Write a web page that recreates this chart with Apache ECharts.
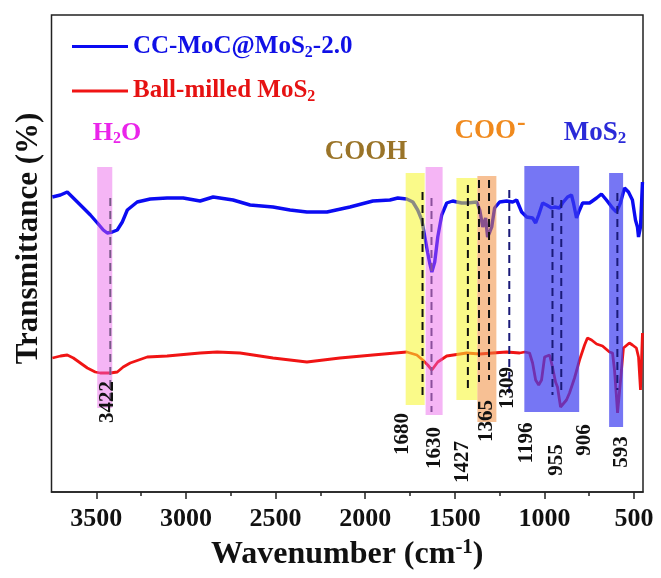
<!DOCTYPE html>
<html>
<head>
<meta charset="utf-8">
<script src="https://cdn.jsdelivr.net/npm/echarts@6/dist/echarts.min.js"></script>
<style>
  html, body { margin: 0; padding: 0; background: #fff; }
  #chart { width: 661px; height: 578px; }
</style>
</head>
<body>
<div id="chart"></div>
<script>
// FTIR spectra: [wavenumber (cm-1), transmittance (offset, arb. units)]
const ccMocSpectrum = [
  [3745,60.6],[3700,61.0],[3662,61.6],[3617,60.0],[3572,58.4],[3533,57.0],[3494,55.4],
  [3461,54.0],[3439,53.4],[3411,53.6],[3383,54.0],[3355,55.6],[3327,58.0],[3272,59.6],
  [3199,60.2],[3105,60.4],[3015,60.4],[2921,59.8],[2848,60.6],[2737,60.0],[2642,59.0],
  [2514,58.6],[2419,58.0],[2325,57.6],[2213,57.6],[2085,58.6],[1957,59.8],[1862,60.0],
  [1818,60.4],[1768,60.2],[1734,59.6],[1707,58.0],[1684,56.0],[1667,52.6],[1651,49.4],
  [1640,47.4],[1628,45.6],[1612,47.6],[1595,52.6],[1573,57.0],[1545,59.4],[1512,59.8],
  [1462,59.4],[1428,59.4],[1378,59.6],[1361,58.0],[1344,54.6],[1328,56.4],[1317,52.6],
  [1305,53.6],[1294,54.6],[1278,58.4],[1250,59.6],[1211,59.8],[1177,59.6],[1155,60.0],
  [1127,57.6],[1099,56.6],[1066,56.4],[1049,55.4],[1032,57.0],[1010,59.4],[988,59.0],
  [960,58.4],[943,58.6],[916,58.4],[899,59.4],[871,60.6],[849,61.0],[838,59.4],
  [821,56.4],[804,58.0],[787,59.4],[748,59.4],[709,60.4],[682,61.2],[654,60.0],
  [620,58.4],[598,57.6],[576,59.4],[553,62.4],[531,61.6],[509,60.0],[492,56.0],
  [481,54.6],[475,52.6],[464,54.6],[453,63.6]
];

const ballMilledSpectrum = [
  [3745,28.4],[3700,28.8],[3662,29.0],[3628,28.4],[3589,27.4],[3550,26.4],[3506,25.6],
  [3478,25.4],[3422,25.4],[3383,25.6],[3350,26.6],[3311,27.4],[3216,28.6],[3105,28.8],
  [2921,29.4],[2826,29.6],[2698,29.4],[2514,28.4],[2325,27.6],[2141,28.4],[1957,29.0],
  [1768,29.6],[1712,29.0],[1679,28.0],[1651,27.0],[1628,26.0],[1595,27.6],[1545,28.8],
  [1434,29.4],[1361,29.2],[1289,29.4],[1211,29.6],[1138,29.4],[1110,29.6],[1083,29.4],
  [1066,27.4],[1049,24.0],[1032,23.0],[1016,24.0],[999,28.6],[971,29.0],[955,26.6],
  [938,23.6],[927,22.6],[910,18.6],[899,18.6],[877,20.0],[860,21.4],[832,24.4],
  [804,28.0],[776,31.0],[760,32.4],[737,32.0],[709,31.2],[676,30.8],[637,29.6],
  [620,29.4],[609,26.0],[598,20.6],[592,17.4],[587,19.4],[570,26.0],[559,30.4],
  [526,31.4],[509,31.0],[487,30.4],[475,28.6],[464,22.0],[453,33.4]
];

const seriesNames = ['CC-MoC@MoS2-2.0', 'Ball-milled MoS2'];

// assigned peak positions (cm-1)
const peakWavenumbers = [3422, 1680, 1630, 1427, 1365, 1309, 1196, 955, 906, 593];

// assignment bands: [high, low] wavenumber
const bandRanges = [[3495,3411],[1774,1668],[1663,1568],[1491,1374],[1374,1268],[1112,806],[639,561]];

const xTickValues = [3500, 3000, 2500, 2000, 1500, 1000, 500];
const xMinorTickValues = [3250, 2750, 2250, 1750, 1250, 750];

// ---- layout / styling ----
const FONT = "'Liberation Serif', 'Times New Roman', 'DejaVu Serif', serif";
const bandSpans = [[66.6,18.4],[65.4,19.0],[66.6,17.0],[64.4,20.0],[64.8,15.6],[66.8,17.6],[65.4,14.6]];
const bandColors = [
  'rgba(232,90,232,0.45)', 'rgba(245,245,40,0.55)', 'rgba(232,90,232,0.45)',
  'rgba(245,245,40,0.55)', 'rgba(240,140,60,0.55)', 'rgba(60,60,240,0.7)', 'rgba(60,60,240,0.7)'
];
const peakLineSpans = [[60.4,19.4],[61.6,20.6],[60.4,17.6],[63,22],[64,23.6],[64,24],[62,21],[60.6,21],[60,21],[61.4,22]];
const peakDashColors = ['#7a5a88','#111','#8a4f9c','#111','#111','#111','#1a1a78','#1a1a78','#1a1a78','#1a1a78'];
const peakLabelY = [19.6, 13.2, 10.4, 7.6, 15.8, 22.4, 11.4, 8.0, 12.0, 9.6];
const peakLabelDx = [-3, -20, 3, -5, 8, 19, 17, 4, 23, 4];

const chart = echarts.init(document.getElementById('chart'), null, { renderer: 'canvas' });

function groupLabel(x, y, text, color, size) {
  const sub = Math.round(size * 0.62);
  return {
    type: 'text', x: x, y: y, silent: true, z: 10,
    style: {
      text: text, fill: color, font: 'bold ' + size + 'px ' + FONT,
      rich: {
        b: { fontSize: size, fontWeight: 'bold', fontFamily: FONT, fill: color },
        s: { fontSize: sub, fontWeight: 'bold', fontFamily: FONT, fill: color, padding: [Math.round(size * 0.45), 0, 0, 0] },
        p: { fontSize: Math.round(size * 0.95), fontWeight: 'bold', fontFamily: FONT, fill: color, padding: [0, 0, Math.round(size * 0.55), 1] }
      },
      align: 'center', verticalAlign: 'middle'
    }
  };
}

const option = {
  animation: false,
  backgroundColor: '#fff',
  grid: {
    left: 51.5, right: 18, top: 15, bottom: 86,
    show: true, borderColor: '#222', borderWidth: 1.5, backgroundColor: 'transparent'
  },
  legend: {
    orient: 'vertical', left: 72, top: 34, itemGap: 18, padding: 0,
    itemWidth: 56, itemHeight: 3,
    icon: 'rect',
    data: [
      { name: seriesNames[0], textStyle: { color: '#1010e6' } },
      { name: seriesNames[1], textStyle: { color: '#e61212' } }
    ],
    formatter: (name) => '{b|' + name.replace('MoS2', 'MoS}{s|2}{b|') + '}',
    textStyle: {
      fontFamily: FONT, fontWeight: 'bold', fontSize: 25,
      rich: {
        b: { fontFamily: FONT, fontWeight: 'bold', fontSize: 25 },
        s: { fontFamily: FONT, fontWeight: 'bold', fontSize: 16, padding: [12, 0, 0, 0] }
      }
    }
  },
  xAxis: [
    {
      type: 'value', min: 450, max: 3750, inverse: true, position: 'bottom',
      splitLine: { show: false },
      axisLine: { show: true, onZero: false, lineStyle: { color: '#222', width: 1.5 } },
      axisTick: { show: true, inside: false, length: 7, customValues: xTickValues, lineStyle: { color: '#222', width: 1.5 } },
      axisLabel: {
        customValues: xTickValues, margin: 14,
        formatter: (v) => String(v),
        fontFamily: FONT, fontWeight: 'bold', fontSize: 26, color: '#111'
      },
      name: '{b|Wavenumber (cm}{p|-1}{b|)}',
      nameLocation: 'middle', nameGap: 44,
      nameTextStyle: {
        color: '#111',
        rich: {
          b: { fontFamily: FONT, fontWeight: 'bold', fontSize: 32, color: '#111' },
          p: { fontFamily: FONT, fontWeight: 'bold', fontSize: 21, color: '#111', padding: [0, 0, 15, 0] }
        }
      }
    },
    {
      type: 'value', min: 450, max: 3750, inverse: true, position: 'bottom',
      splitLine: { show: false },
      axisLine: { show: false, onZero: false },
      axisLabel: { show: false },
      axisTick: { show: true, inside: false, length: 4, customValues: xMinorTickValues, lineStyle: { color: '#222', width: 1.5 } }
    }
  ],
  yAxis: {
    type: 'value', min: 1.6, max: 97,
    axisLine: { show: false }, axisTick: { show: false }, axisLabel: { show: false },
    splitLine: { show: false },
    name: 'Transmittance (%)', nameLocation: 'middle', nameGap: 7,
    nameTextStyle: { fontFamily: FONT, fontWeight: 'bold', fontSize: 31, color: '#111', padding: [0, 0, 0, 30] }
  },
  graphic: [
    groupLabel(117, 133, '{b|H}{s|2}{b|O}', '#ea24ea', 26),
    groupLabel(366, 152, '{b|COOH}', '#9a7428', 27),
    groupLabel(490, 131, '{b|COO}{p|-}', '#f08a1e', 27),
    groupLabel(595, 133, '{b|MoS}{s|2}', '#2a2ad8', 27)
  ],
  series: [
    {
      name: seriesNames[0], type: 'line', data: ccMocSpectrum,
      showSymbol: false, symbol: 'none', silent: true, z: 2,
      color: '#0b0bf2', lineStyle: { color: '#0b0bf2', width: 3.4 }
    },
    {
      name: seriesNames[1], type: 'line', data: ballMilledSpectrum,
      showSymbol: false, symbol: 'none', silent: true, z: 2,
      color: '#f01414', lineStyle: { color: '#f01414', width: 2.8 }
    },
    {
      // translucent assignment bands laid over the spectra
      type: 'custom', silent: true, z: 3,
      encode: { x: [0, 1], y: [2, 3] },
      data: bandRanges.map((r, i) => [r[0], r[1], bandSpans[i][0], bandSpans[i][1]]),
      renderItem: (params, api) => {
        const a = api.coord([api.value(0), api.value(2)]);
        const b = api.coord([api.value(1), api.value(3)]);
        return {
          type: 'rect',
          shape: { x: Math.min(a[0], b[0]), y: Math.min(a[1], b[1]), width: Math.abs(b[0] - a[0]), height: Math.abs(b[1] - a[1]) },
          style: { fill: bandColors[params.dataIndex] }
        };
      }
    },
    {
      // dashed peak markers
      type: 'custom', silent: true, z: 4,
      encode: { x: 0, y: [1, 2] },
      data: peakWavenumbers.map((w, i) => [w, peakLineSpans[i][0], peakLineSpans[i][1]]),
      renderItem: (params, api) => {
        const a = api.coord([api.value(0), api.value(1)]);
        const b = api.coord([api.value(0), api.value(2)]);
        return {
          type: 'line',
          shape: { x1: a[0], y1: a[1], x2: b[0], y2: b[1] },
          style: { stroke: peakDashColors[params.dataIndex], lineWidth: 2, lineDash: [8, 5] }
        };
      }
    },
    {
      // peak position labels
      type: 'custom', silent: true, z: 5,
      encode: { x: 0, y: 1 },
      data: peakWavenumbers.map((w, i) => [w, peakLabelY[i]]),
      renderItem: (params, api) => {
        const p = api.coord([api.value(0), api.value(1)]);
        return {
          type: 'text',
          x: p[0] + peakLabelDx[params.dataIndex], y: p[1],
          rotation: Math.PI / 2,
          style: {
            text: String(peakWavenumbers[params.dataIndex]),
            fill: '#111', font: 'bold 21px ' + FONT,
            align: 'center', verticalAlign: 'middle'
          }
        };
      }
    }
  ]
};

chart.setOption(option);
</script>
</body>
</html>
